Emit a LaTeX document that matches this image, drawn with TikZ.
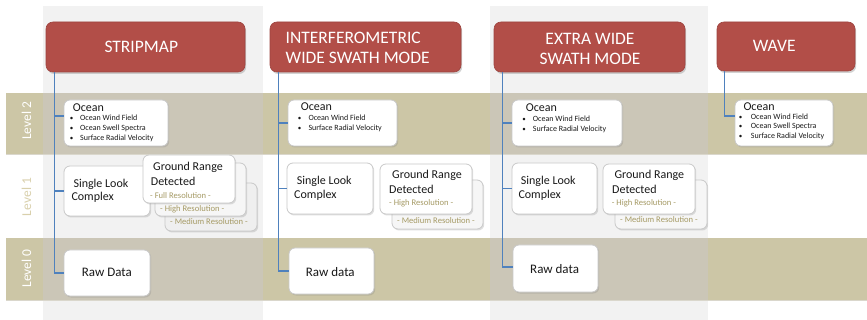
\documentclass[tikz,border=0pt]{standalone}
\usepackage{fontspec}
\setmainfont{Carlito}
\usetikzlibrary{shadows}
\definecolor{colgray}{HTML}{F2F2F2}
\definecolor{bandc}{HTML}{CCC6A6}
\definecolor{bandin}{HTML}{CBC6B7}
\definecolor{bandedge}{HTML}{DAD7CC}
\definecolor{hdrred}{HTML}{B24E48}
\definecolor{hdredge}{HTML}{9E4540}
\definecolor{connblue}{HTML}{4F81BD}
\definecolor{lvlone}{HTML}{D9D0AC}
\definecolor{restext}{HTML}{A69B66}
\definecolor{boxedge}{HTML}{C9C9C9}
\definecolor{boxback}{HTML}{F6F6F6}
\definecolor{boxbacktwo}{HTML}{EFEFEF}
\begin{document}
\begin{tikzpicture}[x=1pt,y=-1pt,
 hdr/.style={fill=hdrred, draw=hdredge, line width=0.6pt, rounded corners=7pt, inner sep=0pt, drop shadow={shadow xshift=1.2pt, shadow yshift=-2pt, opacity=0.35}},
 wbox/.style={fill=white, draw=boxedge, line width=0.8pt, rounded corners=6pt, inner sep=0pt, drop shadow={shadow xshift=1.2pt, shadow yshift=-1.5pt, opacity=0.25}},
 conn/.style={draw=connblue, line width=1.3pt},
 hdrtxt/.style={anchor=base west, inner sep=0pt, text=white, font=\fontsize{17.5}{20}\selectfont},
 body/.style={anchor=base west, inner sep=0pt, text=black!90, font=\fontsize{12}{14}\selectfont},
 rawtxt/.style={anchor=base west, inner sep=0pt, text=black!90, font=\fontsize{13}{15}\selectfont},
 smalltxt/.style={anchor=base west, inner sep=0pt, text=black!90, font=\fontsize{8}{9}\selectfont},
 bul/.style={anchor=base, inner sep=0pt, text=black!90, font=\fontsize{7}{8}\selectfont},
 restxt/.style={anchor=base west, inner sep=0pt, text=restext, font=\fontsize{8.6}{10}\selectfont},
 lvl/.style={rotate=90, inner sep=0pt, font=\fontsize{13.5}{15}\selectfont},
]
\useasboundingbox (0,0) rectangle (867,320);
% columns
\fill[white] (0,0) rectangle (867,320);
\fill[colgray] (43,6) rectangle (263,320);
\fill[colgray] (490,6) rectangle (708,320);
% bands
\fill[bandc] (6,93) rectangle (867,154);
\fill[bandc] (6,238) rectangle (867,300);
\fill[bandin] (43,93) rectangle (263,154);
\fill[bandin] (43,238) rectangle (263,300);
\fill[bandin] (490,93) rectangle (708,154);
\fill[bandin] (490,238) rectangle (708,300);
\draw[bandedge, line width=0.8pt] (6,154.4) -- (867,154.4);
\draw[bandedge, line width=0.8pt] (6,300.4) -- (867,300.4);
% level labels
\node[lvl, text=white] (L2) at (26.5,121) {Level 2};
\node[lvl, text=lvlone] (L1) at (26.5,197) {Level 1};
\node[lvl, text=white] (L0) at (26.5,268.5) {Level 0};

% header boxes
\node[hdr, minimum width=199pt, minimum height=50pt] (H1) at (145.5,47) {};
\node[hdr, minimum width=191pt, minimum height=50pt] (H2) at (365.5,47) {};
\node[hdr, minimum width=191pt, minimum height=50pt] (H3) at (589.5,47) {};
\node[hdr, minimum width=138pt, minimum height=49pt] (H4) at (786,46.5) {};

% level 2 boxes
\node[wbox, minimum width=104pt, minimum height=46pt] (O1) at (116,123) {};
\node[wbox, minimum width=109pt, minimum height=46pt] (O2) at (342.5,123) {};
\node[wbox, minimum width=110pt, minimum height=46pt] (O3) at (567,123) {};
\node[wbox, minimum width=98pt, minimum height=46pt] (O4) at (784,123) {};

% level 1 boxes
\node[wbox, minimum width=86pt, minimum height=50pt] (S1) at (107,191) {};
\node[wbox, minimum width=86pt, minimum height=51pt] (S2) at (330,188.5) {};
\node[wbox, minimum width=85pt, minimum height=51pt] (S3) at (554.5,188.5) {};

\node[wbox, fill=boxbacktwo, minimum width=92pt, minimum height=48pt] (G1c) at (211,207) {};
\node[wbox, fill=boxback, minimum width=91pt, minimum height=53pt] (G1b) at (200.5,189.5) {};
\node[wbox, minimum width=92pt, minimum height=48pt] (G1) at (189,179) {};

\node[wbox, fill=boxback, minimum width=91pt, minimum height=49pt] (G2b) at (437.5,204.5) {};
\node[wbox, minimum width=92pt, minimum height=50pt] (G2) at (426,189) {};

\node[wbox, fill=boxback, minimum width=92pt, minimum height=49pt] (G3b) at (661,204.5) {};
\node[wbox, minimum width=92pt, minimum height=50pt] (G3) at (649,189) {};

% level 0 boxes
\node[wbox, minimum width=86pt, minimum height=46pt] (R1) at (107,273) {};
\node[wbox, minimum width=85pt, minimum height=46pt] (R2) at (331.5,271) {};
\node[wbox, minimum width=85pt, minimum height=47pt] (R3) at (555.5,268.5) {};

% connectors
\coordinate (t1) at ([xshift=9pt]H1.south west);
\coordinate (t2) at ([xshift=9pt]H2.south west);
\coordinate (t3) at ([xshift=9pt]H3.south west);
\coordinate (t4) at ([xshift=8pt]H4.south west);
\coordinate (o1in) at ([yshift=7pt]O1.west);
\coordinate (o4in) at ([yshift=7pt]O4.west);
\coordinate (r3in) at ([yshift=1.5pt]R3.west);
\draw[conn] (t1) |- (R1.west);
\draw[conn] (t1 |- S1.west) -- (S1.west);
\draw[conn] (t1 |- o1in) -- (o1in);
\draw[conn] (t2) |- (R2.west);
\draw[conn] (t2 |- S2.west) -- (S2.west);
\draw[conn] (t2 |- O2.west) -- (O2.west);
\draw[conn] (t3) |- (r3in);
\draw[conn] (t3 |- S3.west) -- (S3.west);
\draw[conn] (t3 |- O3.west) -- (O3.west);
\draw[conn] (t4) |- (o4in);

% header texts
\node[hdrtxt] (h1t) at (104.3,52.3) {STRIPMAP};
\node[hdrtxt] (h2ta) at (285.5,43.3) {INTERFEROMETRIC};
\node[hdrtxt] (h2tb) at (285.5,64) {WIDE SWATH MODE};
\node[hdrtxt, anchor=base] (h3ta) at (590,44.3) {EXTRA WIDE};
\node[hdrtxt, anchor=base] (h3tb) at (590,65) {SWATH MODE};
\node[hdrtxt] (h4t) at (752.7,51.7) {WAVE};

% ocean texts
\node[body] (o1t) at (72.7,111.7) {Ocean};
\node[bul] (o1b1) at (71.5,121) {\textbullet};
\node[smalltxt] (o1l1) at (80,121) {Ocean Wind Field};
\node[bul] (o1b2) at (71.5,130.8) {\textbullet};
\node[smalltxt] (o1l2) at (80,130.8) {Ocean Swell Spectra};
\node[bul] (o1b3) at (71.5,140.6) {\textbullet};
\node[smalltxt] (o1l3) at (80,140.6) {Surface Radial Velocity};

\node[body] (o2t) at (300.7,111) {Ocean};
\node[bul] (o2b1) at (299.5,121) {\textbullet};
\node[smalltxt] (o2l1) at (308.3,121) {Ocean Wind Field};
\node[bul] (o2b2) at (299.5,131) {\textbullet};
\node[smalltxt] (o2l2) at (308.3,131) {Surface Radial Velocity};

\node[body] (o3t) at (525.7,111.7) {Ocean};
\node[bul] (o3b1) at (524,121.3) {\textbullet};
\node[smalltxt] (o3l1) at (532.7,121.3) {Ocean Wind Field};
\node[bul] (o3b2) at (524,131.2) {\textbullet};
\node[smalltxt] (o3l2) at (532.7,131.2) {Surface Radial Velocity};

\node[body] (o4t) at (743.3,110.7) {Ocean};
\node[bul] (o4b1) at (740.5,119.3) {\textbullet};
\node[smalltxt] (o4l1) at (750.7,119.3) {Ocean Wind Field};
\node[bul] (o4b2) at (740.5,129) {\textbullet};
\node[smalltxt] (o4l2) at (750.7,129) {Ocean Swell Spectra};
\node[bul] (o4b3) at (740.5,139) {\textbullet};
\node[smalltxt] (o4l3) at (750.7,139) {Surface Radial Velocity};

% SLC texts
\node[body] (s1a) at (73.3,187.3) {Single Look};
\node[body] (s1b) at (71.3,200.7) {Complex};
\node[body] (s2a) at (296.7,185) {Single Look};
\node[body] (s2b) at (294,199) {Complex};
\node[body] (s3a) at (520.7,185) {Single Look};
\node[body] (s3b) at (518.3,199) {Complex};

% GRD texts
\node[body] (g1a) at (153,171) {Ground Range};
\node[body] (g1b) at (150.7,185.7) {Detected};
\node[restxt] (g1r1) at (150,198.3) {- Full Resolution -};
\node[restxt] (g1r2) at (160,212) {- High Resolution -};
\node[restxt] (g1r3) at (170,225) {- Medium Resolution -};

\node[body] (g2a) at (392,179) {Ground Range};
\node[body] (g2b) at (389,193.3) {Detected};
\node[restxt] (g2r1) at (389,205.7) {- High Resolution -};
\node[restxt] (g2r2) at (397,223.3) {- Medium Resolution -};

\node[body] (g3a) at (614.3,179) {Ground Range};
\node[body] (g3b) at (612,193.3) {Detected};
\node[restxt] (g3r1) at (611.7,205.7) {- High Resolution -};
\node[restxt] (g3r2) at (620,222.7) {- Medium Resolution -};

% raw texts
\node[rawtxt] (r1t) at (81.7,276.7) {Raw Data};
\node[rawtxt] (r2t) at (305.7,276.7) {Raw data};
\node[rawtxt] (r3t) at (530,274) {Raw data};
\end{tikzpicture}
\end{document}
